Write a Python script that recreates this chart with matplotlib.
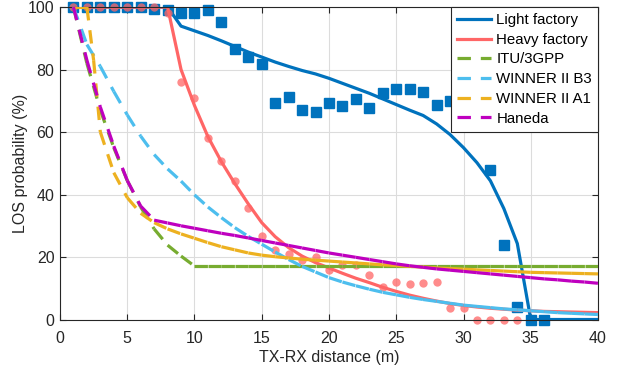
import numpy as np
import matplotlib.pyplot as plt
from matplotlib.collections import LineCollection
from matplotlib.lines import Line2D

plt.rcParams['font.family'] = ['Liberation Sans', 'DejaVu Sans']

# distance grid (m) used by the fitted / reference curves
dist = list(range(1, 41))

# measured LOS probability (%)
light_meas_d = list(range(1, 30)) + [32, 33, 34, 35, 36]
light_meas = [100, 100, 100, 100, 100, 100, 99.5, 99.2, 98.2, 98.2,
              99.0, 95.3, 86.6, 84.1, 81.7, 69.4, 71.3, 67.0, 66.5, 69.4,
              68.5, 70.6, 67.8, 72.6, 73.7, 73.9, 72.8, 68.6, 70.0,
              47.7, 23.9, 3.9, 0, 0]
heavy_meas_d = list(range(1, 35))
heavy_meas = [100, 100, 100, 100, 100, 100, 100, 98.0, 76.1, 70.8,
              58.2, 50.8, 44.3, 35.8, 26.8, 22.2, 21.0, 19.0, 19.9, 15.8,
              17.4, 17.4, 14.2, 10.3, 12.1, 11.3, 11.6, 12.1, 3.6, 3.6,
              0, 0, 0, 0]

# fitted curves
light_fit = [100, 100, 100, 100, 100, 100, 100, 100, 93.9, 92.4,
             90.9, 89.2, 87.4, 85.6, 84.0, 82.4, 81.0, 79.7, 78.6, 77.2,
             75.6, 74.0, 72.4, 70.6, 68.8, 67.0, 65.3, 62.6, 59.2, 55.0,
             50.2, 44.4, 35.5, 24.3, 0, 0, 0, 0, 0, 0]
heavy_fit = [100, 100, 100, 100, 100, 100, 100, 100, 80.0, 68.5,
             58.5, 50.5, 43.5, 37.0, 31.0, 26.5, 23.0, 20.3, 18.2, 16.5,
             14.8, 13.2, 11.8, 10.3, 9.0, 7.8, 6.8, 5.9, 5.1, 4.5,
             4.0, 3.6, 3.3, 3.0, 2.8, 2.6, 2.5, 2.4, 2.3, 2.2]

# reference models
itu = [100, 82, 67, 55, 44.5, 36, 29, 23.8, 20.3, 17.1] + [17.1] * 30
winner_b3 = [100, 88, 81, 73, 65.5, 58.7, 52.8, 48.2, 44.3, 39.9,
             36.0, 32.6, 29.4, 26.6, 24.1, 21.6, 19.2, 17.0, 15.2, 13.4,
             12.0, 10.8, 9.7, 8.7, 7.9, 7.1, 6.4, 5.8, 5.2, 4.6,
             4.2, 3.8, 3.4, 3.1, 2.8, 2.5, 2.2, 2.0, 1.8, 1.6]
winner_a1_d = [1, 2, 2.5] + list(range(3, 41))
winner_a1 = [100, 100, 83, 60, 47, 39, 34, 31, 29, 27.4, 26.0,
             24.6, 23.3, 22.3, 21.3, 20.6, 20.1, 19.7, 19.3, 19.0, 18.7,
             18.4, 18.1, 17.8, 17.5, 17.3, 17.0, 16.8, 16.5, 16.3, 16.1,
             15.9, 15.7, 15.5, 15.3, 15.1, 15.0, 14.9, 14.8, 14.7, 14.6]
haneda = [100, 83, 68, 55.5, 44.5, 36.3, 31.8, 30.9, 30.0, 29.2,
          28.4, 27.6, 26.9, 26.1, 25.3, 24.5, 23.7, 22.9, 22.1, 21.3,
          20.6, 19.9, 19.2, 18.5, 17.8, 17.2, 16.7, 16.2, 15.8, 15.4,
          15.0, 14.6, 14.2, 13.8, 13.4, 13.0, 12.7, 12.3, 12.0, 11.6]

c_blue = '#0072BD'
c_red = '#FF6666'
c_green = '#77AC30'
c_cyan = '#4DBEEE'
c_orange = '#EDB120'
c_mag = '#BF00BF'

LW = 2.3
DASH = (0, (4.2, 3.1))


def dashed(ax, x, y, color):
    # one path per segment so the dash pattern restarts at every sample
    pts = np.column_stack([x, y])
    segs = np.stack([pts[:-1], pts[1:]], axis=1)
    lc = LineCollection(segs, colors=color, linewidths=LW, linestyles=[DASH],
                        capstyle='butt', zorder=3)
    ax.add_collection(lc)


fig = plt.figure(figsize=(6.21, 3.73), dpi=100)
ax = fig.add_axes([0.0966, 0.1434, 0.8664, 0.8376])

ax.plot(light_meas_d, light_meas, 's', color=c_blue, ms=6.5, mec=c_blue,
        zorder=2, clip_on=False)
ax.plot(dist, light_fit, '-', color=c_blue, lw=LW, zorder=2)
ax.plot(heavy_meas_d, heavy_meas, 'o', color=c_red, ms=6, mec='none',
        alpha=0.75, zorder=2, clip_on=False)
ax.plot(dist, heavy_fit, '-', color=c_red, lw=LW, zorder=2)

dashed(ax, dist, itu, c_green)
dashed(ax, dist, winner_b3, c_cyan)
dashed(ax, winner_a1_d, winner_a1, c_orange)
dashed(ax, dist, haneda, c_mag)

ax.set_xlim(0, 40)
ax.set_ylim(0, 100)
ax.set_xticks(range(0, 41, 5))
ax.set_yticks(range(0, 101, 20))
ax.grid(True, color='#dcdcdc', lw=0.8)
ax.set_axisbelow(True)
for s in ax.spines.values():
    s.set_color('#262626')
    s.set_linewidth(0.8)
ax.tick_params(direction='in', length=4, width=0.8, top=True, right=True,
               colors='#262626', labelsize=11.5)
ax.tick_params(axis='x', pad=8)
ax.tick_params(axis='y', pad=4)
ax.set_xlabel('TX-RX distance (m)', fontsize=11.5, color='#262626', labelpad=3)
ax.set_ylabel('LOS probability (%)', fontsize=11.5, color='#262626', labelpad=0)

handles = [
    Line2D([], [], color=c_blue, lw=LW),
    Line2D([], [], color=c_red, lw=LW),
    Line2D([], [], color=c_green, lw=LW, ls=DASH),
    Line2D([], [], color=c_cyan, lw=LW, ls=DASH),
    Line2D([], [], color=c_orange, lw=LW, ls=DASH),
    Line2D([], [], color=c_mag, lw=LW, ls=DASH),
]
labels = ['Light factory', 'Heavy factory', 'ITU/3GPP', 'WINNER II B3',
          'WINNER II A1', 'Haneda']
leg = ax.legend(handles, labels, loc='upper right', borderaxespad=0,
                fancybox=False, framealpha=1, edgecolor='#262626',
                fontsize=10.8, handlelength=2.3, handletextpad=0.35,
                labelspacing=0.38, borderpad=0.4)
leg.get_frame().set_linewidth(0.8)
leg.set_zorder(10)

fig.savefig('out.png', dpi=100)
